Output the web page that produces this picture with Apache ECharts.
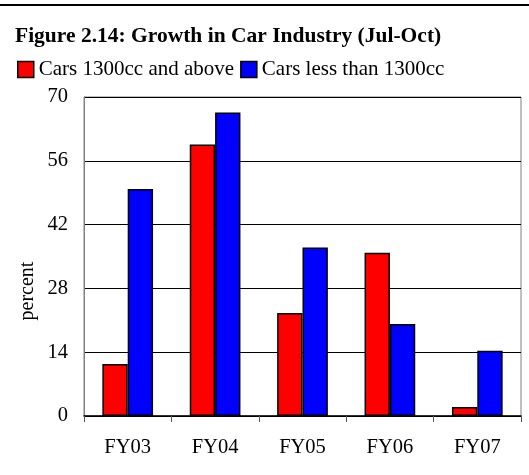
<!DOCTYPE html>
<html>
<head>
<meta charset="utf-8">
<script src="https://cdn.jsdelivr.net/npm/echarts@6/dist/echarts.min.js"></script>
<style>html,body{margin:0;padding:0;background:#fff;}#c{width:529px;height:475px;}</style>
</head>
<body>
<div id="c"></div>
<script>
var categories = ['FY03', 'FY04', 'FY05', 'FY06', 'FY07'];
var seriesNames = ['Cars 1300cc and above', 'Cars less than 1300cc'];
var carsAbove = [11.4, 59.6, 22.6, 35.8, 2.0];
var carsBelow = [49.8, 66.6, 37.0, 20.2, 14.3];
var yTicks = [0, 14, 28, 42, 56, 70];
var titleText = 'Figure 2.14: Growth in Car Industry (Jul-Oct)';
var yName = 'percent';

var font = '"Liberation Serif", "Times New Roman", serif';
var chart = echarts.init(document.getElementById('c'), null, {renderer: 'canvas'});
chart.setOption({
  animation: false,
  backgroundColor: '#fff',
  title: {
    text: titleText, left: 10, top: 20,
    textStyle: {fontFamily: font, fontWeight: 'bold', fontSize: 21.5, color: '#000'}
  },
  legend: {
    left: 12, top: 54, icon: 'rect', itemWidth: 16, itemHeight: 16, itemGap: 6,
    itemStyle: {borderColor: '#000', borderWidth: 1.5},
    textStyle: {fontFamily: font, fontSize: 21, color: '#000'},
    data: seriesNames
  },
  graphic: [
    {type: 'line', shape: {x1: 0, y1: 5, x2: 529, y2: 5}, style: {stroke: '#000', lineWidth: 2}},
    {type: 'text', x: 28, y: 291, rotation: Math.PI/2,
     style: {text: yName, font: '20px ' + font, fill: '#000', align: 'center', verticalAlign: 'middle'}}
  ],
  grid: {left: 84, right: 8, top: 97, bottom: 59, show: true, borderColor: '#808080', borderWidth: 1},
  xAxis: {
    type: 'category', data: categories,
    axisLine: {show: true, lineStyle: {color: '#000', width: 1.5}},
    axisTick: {show: true, length: 6, lineStyle: {color: '#555'}},
    axisLabel: {fontFamily: font, fontSize: 20.5, color: '#000', margin: 21}
  },
  yAxis: {
    type: 'value', min: yTicks[0], max: yTicks[yTicks.length-1], interval: 14,
    axisLine: {show: true, lineStyle: {color: '#808080'}},
    axisTick: {show: false},
    splitLine: {lineStyle: {color: '#000', width: 1}},
    axisLabel: {fontFamily: font, fontSize: 20.5, color: '#000', margin: 16}
  },
  series: [
    {name: seriesNames[0], type: 'bar', data: carsAbove, barWidth: '29%', barGap: '0%',
     itemStyle: {color: '#ff0000', borderColor: '#000', borderWidth: 1.5}},
    {name: seriesNames[1], type: 'bar', data: carsBelow, barWidth: '29%', barGap: '0%',
     itemStyle: {color: '#0000ff', borderColor: '#000', borderWidth: 1.5}}
  ]
});
</script>
</body>
</html>
